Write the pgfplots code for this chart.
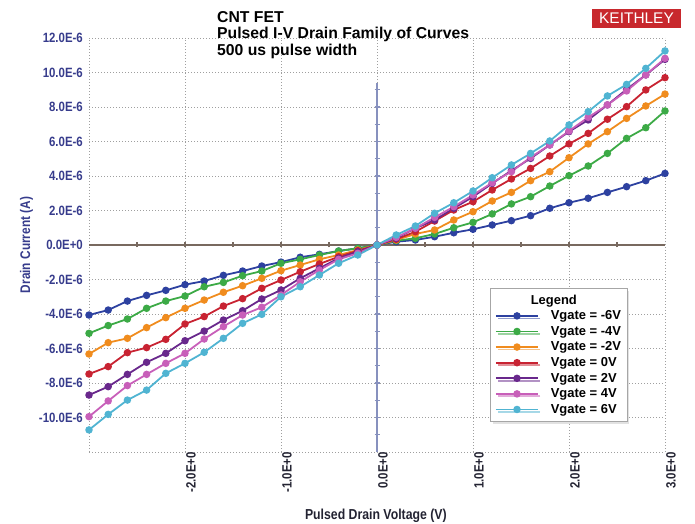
\documentclass[border=0pt]{standalone}
\usepackage{fontspec}
\setmainfont{Liberation Sans}
\newfontfamily\narrow[FakeStretch=0.85]{Liberation Sans}
\usepackage{pgfplots}
\usepackage{pgfplotstable}
\pgfplotsset{compat=1.18}
\usetikzlibrary{shadows}

\definecolor{cA}{RGB}{45,65,160}
\definecolor{cB}{RGB}{60,170,70}
\definecolor{cC}{RGB}{240,140,30}
\definecolor{cD}{RGB}{200,35,50}
\definecolor{cE}{RGB}{105,40,140}
\definecolor{cF}{RGB}{200,95,185}
\definecolor{cG}{RGB}{80,180,210}
\definecolor{navy}{RGB}{55,60,140}
\definecolor{darklab}{RGB}{35,35,50}
\definecolor{zeroh}{RGB}{120,105,95}
\definecolor{zerov}{RGB}{135,145,190}
\definecolor{keired}{RGB}{200,40,45}

% drain current in uA, one column per gate voltage
\pgfplotstableread{
x     a      b      c      d      e      f      g
-3.0 -4.06 -5.12 -6.32 -7.48 -8.70 -9.95 -10.72
-2.8 -3.77 -4.67 -5.66 -7.05 -8.21 -9.04 -9.82
-2.6 -3.25 -4.29 -5.41 -6.24 -7.50 -8.15 -8.99
-2.4 -2.92 -3.67 -4.79 -5.95 -6.80 -7.50 -8.41
-2.2 -2.63 -3.25 -4.21 -5.47 -6.28 -6.86 -7.44
-2.0 -2.30 -2.96 -3.67 -4.58 -5.55 -6.28 -6.86
-1.8 -2.09 -2.42 -3.19 -4.15 -4.99 -5.45 -6.22
-1.6 -1.76 -2.17 -2.74 -3.54 -4.35 -4.73 -5.41
-1.4 -1.51 -1.78 -2.36 -3.11 -3.81 -4.06 -4.54
-1.2 -1.22 -1.51 -1.93 -2.51 -3.13 -3.61 -4.02
-1.0 -0.99 -1.06 -1.49 -2.03 -2.61 -2.90 -3.00
-0.8 -0.71 -0.83 -1.16 -1.55 -1.93 -2.13 -2.42
-0.6 -0.54 -0.58 -0.83 -1.10 -1.35 -1.45 -1.74
-0.4 -0.35 -0.35 -0.58 -0.68 -0.77 -0.83 -1.06
-0.2 -0.19 -0.19 -0.29 -0.33 -0.39 -0.48 -0.58
 0.0  0.00  0.00  0.00  0.00  0.00  0.00  0.00
 0.2  0.19  0.25  0.29  0.33  0.39  0.44  0.58
 0.4  0.29  0.39  0.64  0.77  0.97  0.97  1.10
 0.6  0.48  0.64  0.87  1.39  1.45  1.60  1.84
 0.8  0.71  1.00  1.45  2.03  2.13  2.22  2.45
 1.0  0.91  1.31  1.93  2.51  2.80  2.90  3.13
 1.2  1.16  1.80  2.55  3.19  3.57  3.61  3.90
 1.4  1.41  2.38  3.05  3.83  4.31  4.25  4.64
 1.6  1.70  2.80  3.73  4.44  5.02  5.08  5.31
 1.8  2.13  3.42  4.25  5.16  5.80  5.80  6.03
 2.0  2.45  4.02  5.06  5.86  6.57  6.61  6.96
 2.2  2.71  4.58  5.86  6.47  7.25  7.40  7.73
 2.4  3.05  5.31  6.57  7.29  8.12  8.12  8.64
 2.6  3.38  6.18  7.34  8.02  9.02  8.93  9.31
 2.8  3.73  6.80  8.06  8.99  9.86  9.86 10.24
 3.0  4.15  7.77  8.75  9.70 10.76 10.82 11.25
}\ivdata

\begin{document}
\begin{tikzpicture}
  \useasboundingbox (0,0) rectangle (695bp,524bp);
  \begin{axis}[
      at={(89bp,72bp)}, anchor=south west,
      scale only axis, width=576bp, height=414bp,
      xmin=-3, xmax=3, ymin=-12, ymax=12,
      clip=false,
      xtick={-3,...,3},
      xticklabels={,-2.0E+0,-1.0E+0,0.0E+0,1.0E+0,2.0E+0,3.0E+0},
      ytick={-12,-10,...,12},
      yticklabels={,-10.0E-6,-8.0E-6,-6.0E-6,-4.0E-6,-2.0E-6,0.0E+0,2.0E-6,4.0E-6,6.0E-6,8.0E-6,10.0E-6,12.0E-6},
      xticklabel style={rotate=90, anchor=east, inner sep=0pt, yshift=-6bp,
        font=\narrow\bfseries\fontsize{13.5}{14}\selectfont, text=darklab},
      yticklabel style={anchor=east, inner sep=0pt, xshift=-6bp,
        font=\narrow\bfseries\fontsize{13.5}{14}\selectfont, text=navy},
      major tick length=0pt,
      tick style={draw=none},
      axis line style={draw=none},
      grid=major,
      major grid style={gray!75, line width=0.8bp, dash pattern=on 1bp off 2bp},
      xlabel={Pulsed Drain Voltage (V)},
      ylabel={Drain Current (A)},
      xlabel style={at={(axis description cs:0.498,-0.1546)}, anchor=center,
        font=\narrow\bfseries\fontsize{14.5}{15}\selectfont, text=darklab},
      ylabel style={at={(axis description cs:-0.1085,0.5)}, anchor=center,
        font=\narrow\bfseries\fontsize{14}{15}\selectfont, text=navy},
      every axis plot/.append style={line width=1.8bp, mark=*, mark size=2.8bp},
      legend image code/.code={\draw[mark repeat=2,mark phase=2,#1]
        plot coordinates {(0bp,0bp) (21bp,0bp) (42bp,0bp)};},
      legend style={at={(0.696,0.396)}, anchor=north west,
        draw=gray!70, fill=white,
        drop shadow={shadow xshift=2.5bp, shadow yshift=-2.5bp, fill=gray!45},
        font=\bfseries\fontsize{13}{14}\selectfont,
        inner xsep=5bp, inner ysep=5.5bp, row sep=3.3bp, column sep=11bp,
        nodes={inner sep=0.9bp}},
      legend cell align=left,
    ]
    % zero lines of the chart
    \draw[zeroh, line width=1.6bp] (axis cs:-3,0) -- (axis cs:3,0);
    \pgfplotsinvokeforeach{-2.5,-2,-1.5,-1,-0.5,0.5,1,1.5,2,2.5}{
      \draw[zeroh, line width=1.2bp] (axis cs:#1,0) ++(0bp,-2.5bp) -- ++(0bp,5bp);}
    \draw[zerov, line width=1.8bp] (axis cs:0,-12) -- (axis cs:0,9.4);
    \pgfplotsinvokeforeach{-11,-10,-9,-8,-7,-6,-5,-4,-3,-2,-1,1,2,3,4,5,6,7,8,9}{
      \draw[zerov, line width=1.2bp] (axis cs:0,#1) ++(-2.5bp,0bp) -- ++(5bp,0bp);}

    \addlegendimage{empty legend}
    \addlegendentry{\hspace*{-20bp}Legend}
    \addplot[color=cA] table[x=x, y=a] {\ivdata};
    \addlegendentry{Vgate = -6V}
    \addplot[color=cB] table[x=x, y=b] {\ivdata};
    \addlegendentry{Vgate = -4V}
    \addplot[color=cC] table[x=x, y=c] {\ivdata};
    \addlegendentry{Vgate = -2V}
    \addplot[color=cD] table[x=x, y=d] {\ivdata};
    \addlegendentry{Vgate = 0V}
    \addplot[color=cE] table[x=x, y=e] {\ivdata};
    \addlegendentry{Vgate = 2V}
    \addplot[color=cF] table[x=x, y=f] {\ivdata};
    \addlegendentry{Vgate = 4V}
    \addplot[color=cG] table[x=x, y=g] {\ivdata};
    \addlegendentry{Vgate = 6V}
  \end{axis}
  % title block
  \node[anchor=north west, inner sep=0pt, align=left,
        font=\bfseries\fontsize{15.8}{16.7}\selectfont]
    at (217bp,513bp) {CNT FET\\Pulsed I-V Drain Family of Curves\\500 us pulse width};
  % logo
  \fill[keired] (592bp,496bp) rectangle (681bp,515bp);
  \node[text=white, inner sep=0pt, font=\fontsize{15.5}{16}\selectfont]
    at (636.5bp,505.5bp) {KEITHLEY};
\end{tikzpicture}
\end{document}
